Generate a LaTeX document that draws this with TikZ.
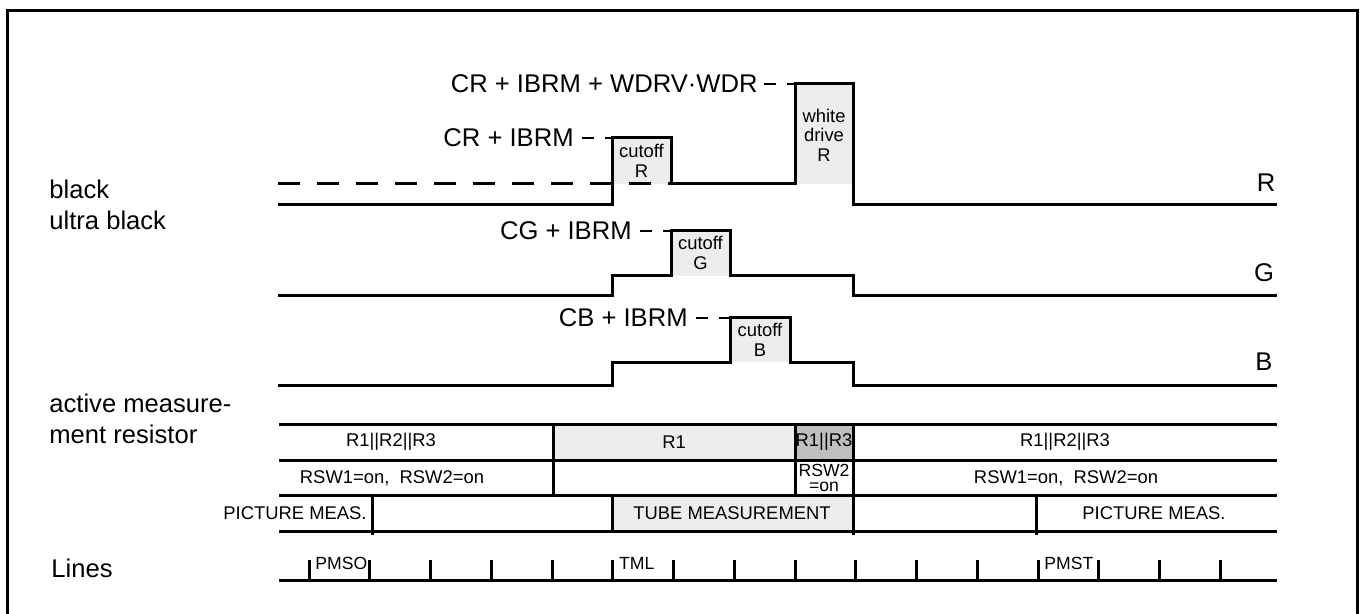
\documentclass[tikz,border=0pt]{standalone}
\usepackage{fontspec}
\setmainfont{Liberation Sans}
\definecolor{lightbox}{gray}{0.93}
\definecolor{darkbox}{gray}{0.75}

\begin{document}
\begin{tikzpicture}[x=0.5pt,y=-0.5pt,
  sig/.style={line width=1.5pt},
  lead/.style={line width=1pt,dash pattern=on 6pt off 5.5pt},
  bigtxt/.style={inner sep=0pt,font=\fontsize{12.8}{15.5}\selectfont},
  celltxt/.style={inner sep=0pt,font=\fontsize{9.2}{10}\selectfont},
  boxtxt/.style={inner sep=0pt,align=center,font=\fontsize{9.2}{9.8}\selectfont},
  ticktxt/.style={inner sep=0pt,font=\fontsize{8.8}{9}\selectfont}]
\useasboundingbox (0,0) rectangle (1363,614);
% frame, open at the bottom
\draw[line width=1.5pt] (7,614) -- (7,11) -- (1357,11) -- (1357,614);

% grey pulse areas
\fill[lightbox] (612,138) rectangle (671,184);
\fill[lightbox] (795,84) rectangle (853,184);
\fill[lightbox] (671,231) rectangle (730,276);
\fill[lightbox] (730,318) rectangle (790,362);
\node[boxtxt] (coR) at (641.5,161) {cutoff\\R};
\node[boxtxt] (wdR) at (824,135) {white\\drive\\R};
\node[boxtxt] (coG) at (700.5,253) {cutoff\\G};
\node[boxtxt] (coB) at (760,340) {cutoff\\B};

% R
\draw[line width=1.5pt,dash pattern=on 11pt off 8.5pt] (278,184) -- (671,184);
\draw[sig] (278,205) -- (612,205) -- (612,138) -- (671,138) -- (671,184) -- (795,184)
  -- (795,84) -- (853,84) -- (853,205) -- (1277,205);
% G
\draw[sig] (278,296) -- (612,296) -- (612,276) -- (671,276) -- (671,231) -- (730,231)
  -- (730,276) -- (853,276) -- (853,296) -- (1277,296);
% B
\draw[sig] (278,385) -- (612,385) -- (612,362) -- (730,362) -- (730,318) -- (790,318)
  -- (790,362) -- (853,362) -- (853,385) -- (1277,385);

\coordinate (wdtop) at (795,84);
\coordinate (cRtop) at (612,138);
\coordinate (cGtop) at (671,231);
\coordinate (cBtop) at (730,318);
\node[bigtxt,anchor=east] (crw) at (758,84) {CR + IBRM + WDRV·WDR};
\node[bigtxt,anchor=east] (cri) at (574,138) {CR + IBRM};
\node[bigtxt,anchor=east] (cgi) at (632,231) {CG + IBRM};
\node[bigtxt,anchor=east] (cbi) at (688,318) {CB + IBRM};
\draw[lead] ([xshift=3pt]crw.east) -- (wdtop);
\draw[lead] ([xshift=4pt]cri.east) -- (cRtop);
\draw[lead] ([xshift=4pt]cgi.east) -- (cGtop);
\draw[lead] ([xshift=4pt]cbi.east) -- (cBtop);

\node[bigtxt] (nR) at (1266,183) {R};
\node[bigtxt] (nG) at (1264,273) {G};
\node[bigtxt] (nB) at (1264,362) {B};
\node[bigtxt,anchor=north west,align=left] (lvl) at (49,180) {black\\ultra black};
\node[bigtxt,anchor=north west,align=left] (amr) at (49,394) {active measure-\\ment resistor};
\node[bigtxt,anchor=west] (lines) at (51,568) {Lines};

% resistor table
\fill[lightbox] (553,424) rectangle (795,460);
\fill[darkbox] (795,424) rectangle (853,460);
\fill[lightbox] (612,495) rectangle (853,531);
\foreach \y in {424,460,495,531}
  \draw[sig] (279,\y) -- (1277,\y);
\draw[sig] (553,424) -- (553,495);
\draw[sig] (795,424) -- (795,495);
\draw[sig] (853,424) -- (853,535);
\draw[sig] (372,495) -- (372,535);
\draw[sig] (612,495) -- (612,531);
\draw[sig] (1036,495) -- (1036,535);
\node[celltxt] (r123a) at (391,442) {R1||R2||R3};
\node[celltxt] (r1) at (674,442) {R1};
\node[celltxt] (r13) at (824,442) {R1||R3};
\node[celltxt] (r123b) at (1065,442) {R1||R2||R3};
\node[celltxt] (swa) at (392,478) {RSW1=on,\ \ RSW2=on};
\node[boxtxt,font=\fontsize{8.8}{7.5}\selectfont] (sw2) at (824,478) {RSW2\\=on};
\node[celltxt] (swb) at (1066,478) {RSW1=on,\ \ RSW2=on};
\node[celltxt,anchor=east] (pma) at (367,513) {PICTURE MEAS.};
\node[celltxt] (tube) at (732,513) {TUBE MEASUREMENT};
\node[celltxt] (pmb) at (1154,513) {PICTURE MEAS.};

% line ticks
\draw[sig] (279,580) -- (1277,580);
\foreach \k in {0,...,15}{
  \coordinate (t\k) at ({309+60.75*\k},560);
  \draw[sig] (t\k) -- ++(0,20);
}
\node[ticktxt,anchor=north west] (pmso) at ([shift={(3pt,1.5pt)}]t0) {PMSO};
\node[ticktxt,anchor=north west] (tml) at ([shift={(3pt,1.5pt)}]t5) {TML};
\node[ticktxt,anchor=north west] (pmst) at ([shift={(3pt,1.5pt)}]t12) {PMST};
\end{tikzpicture}
\end{document}
